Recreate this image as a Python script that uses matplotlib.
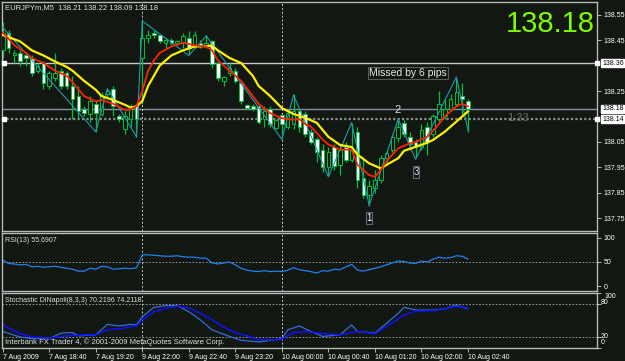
import matplotlib
matplotlib.use("Agg")
import matplotlib.pyplot as plt
import matplotlib.transforms as mtransforms

plt.rcParams['font.family'] = ['Liberation Sans', 'DejaVu Sans']

# ---------------- data ----------------
bars = list(range(81))
opens = [138.41,138.48,138.39,138.40,138.39,138.38,138.33,138.36,138.27,138.30,
         138.33,138.32,138.27,138.23,138.18,138.16,138.20,138.16,138.24,138.26,
         138.15,138.10,138.14,138.19,138.38,138.46,138.48,138.47,138.44,138.45,
         138.44,138.44,138.46,138.43,138.44,138.43,138.445,138.36,138.29,138.32,
         138.33,138.28,138.195,138.19,138.19,138.14,138.18,138.105,138.155,138.11,
         138.12,138.17,138.16,138.09,138.06,138.02,137.95,138.03,137.96,138.03,
         137.98,138.09,137.91,137.84,137.87,137.90,137.985,138.02,138.065,138.125,
         138.07,138.05,138.03,138.11,138.08,138.14,138.15,138.18,138.20,138.23,138.21]
highs = [138.52,138.49,138.41,138.41,138.40,138.39,138.36,138.37,138.33,138.40,
         138.34,138.33,138.31,138.27,138.19,138.23,138.21,138.245,138.26,138.27,
         138.16,138.17,138.20,138.20,138.53,138.49,138.49,138.475,138.46,138.46,
         138.45,138.48,138.485,138.485,138.45,138.47,138.45,138.365,138.31,138.36,
         138.34,138.285,138.20,138.20,138.195,138.19,138.19,138.14,138.16,138.18,
         138.24,138.18,138.17,138.10,138.07,138.04,138.03,138.04,138.04,138.05,
         138.125,138.11,137.99,137.90,137.94,138.00,138.02,138.08,138.14,138.135,
         138.09,138.06,138.12,138.13,138.16,138.25,138.22,138.24,138.305,138.28,138.22]
lows = [138.38,138.40,138.36,138.35,138.35,138.31,138.32,138.26,138.26,138.29,
        138.26,138.26,138.14,138.14,138.15,138.13,138.09,138.15,138.22,138.15,
        138.13,138.08,138.11,138.07,138.20,138.44,138.46,138.44,138.42,138.43,
        138.43,138.42,138.39,138.42,138.42,138.42,138.34,138.29,138.27,138.31,
        138.28,138.20,138.18,138.17,138.12,138.11,138.11,138.10,138.06,138.10,
        138.10,138.09,138.07,138.04,137.97,137.93,137.915,137.94,137.92,137.97,
        137.97,137.87,137.83,137.80,137.85,137.89,137.96,138.01,138.05,138.07,
        138.02,137.985,138.02,138.00,138.07,138.125,138.14,138.17,138.19,138.16,138.09]
closes = [138.48,138.42,138.40,138.37,138.38,138.32,138.35,138.28,138.32,138.32,
          138.27,138.27,138.22,138.17,138.165,138.21,138.165,138.235,138.25,138.19,
          138.14,138.15,138.18,138.14,138.46,138.47,138.47,138.445,138.45,138.44,
          138.445,138.465,138.42,138.47,138.43,138.44,138.355,138.30,138.305,138.34,
          138.29,138.21,138.185,138.18,138.13,138.17,138.12,138.135,138.12,138.165,
          138.17,138.11,138.08,138.05,138.01,137.95,138.01,137.955,138.02,137.98,
          138.02,137.90,137.84,137.875,137.90,137.985,138.005,138.07,138.11,138.08,
          138.04,138.03,138.095,138.05,138.15,138.20,138.18,138.22,138.245,138.22,138.18]

red_bars = [0,2,4,5,7,9,11,12,14,16,17,19,21,22,23,24,25,26,27,29,31,33,35,36,37,39,41,43,44,46,48,50,51,52,53,55,56,58,60,61,63,64,65,66,68,70,71,73,75,76,78,79,80]
red_vals = [138.48,138.43,138.40,138.38,138.36,138.33,138.31,138.285,138.23,138.21,138.215,138.20,138.176,138.178,138.19,138.25,138.33,138.37,138.40,138.425,138.44,138.43,138.425,138.41,138.37,138.33,138.29,138.23,138.20,138.163,138.143,138.137,138.14,138.12,138.11,138.06,138.04,138.02,138.02,137.96,137.92,137.913,137.94,137.975,138.025,138.045,138.05,138.07,138.12,138.15,138.19,138.20,138.19]

yel_bars = [0,3,5,7,9,11,12,14,16,17,19,21,22,23,24,25,26,27,29,31,33,36,37,39,41,43,44,46,48,50,52,54,56,58,60,61,63,65,66,68,69,71,73,74,76,78,79,80]
yel_vals = [138.47,138.445,138.41,138.39,138.366,138.345,138.33,138.29,138.255,138.23,138.215,138.196,138.185,138.19,138.21,138.27,138.31,138.35,138.39,138.41,138.425,138.428,138.41,138.38,138.36,138.31,138.27,138.23,138.183,138.16,138.145,138.125,138.07,138.038,138.03,138.00,137.966,137.946,137.96,137.986,138.015,138.031,138.047,138.058,138.09,138.13,138.15,138.17]

zz_bars = [0,16,18,23,24,32,35,48,50,56,60,63,68,71,78,80]
zz_vals = [138.50,138.09,138.26,138.07,138.525,138.39,138.467,138.06,138.235,137.913,138.126,137.80,138.14,137.982,138.305,138.097]

rsi_vals = [54,47,46,44,45,40,41,39,40,41,39,37,35,31,31,37,35,41,40,35,
            36,37,36,38,65,65,64,63,62,62,63,61,60,60,58,58,48,46,48,50,
            44,37,33,31,30,32,30,31,30,33,38,34,32,30,27,32,31,35,34,40,
            45,33,31,34,37,40,44,48,52,51,48,47,52,50,56,60,58,59,63,62,56]

k_bars = [0,3,5,8,10,12,13,16,18,20,22,23,24,26,28,30,32,34,36,39,41,44,48,49,51,53,55,58,60,61,64,66,68,69,71,74,76,78,80]
k_vals = [30,20,17,17,27,28,22,24,43,40,43,42,57,74,77,77,66,51,33,21,14,11,17,33,40,30,21,24,42,30,27,45,63,74,69,69,71,78,71]
d_bars = [0,3,5,8,11,14,16,18,20,23,24,26,28,30,32,34,36,38,40,42,44,47,48,49,50,52,55,58,61,64,66,69,71,74,76,78,80]
d_vals = [42,26,20,18,22,24,24,33,35,40,51,66,72,76,73,63,51,38,28,22,15,15,16,22,28,30,26,24,30,26,39,60,67,68,71,76,72]

tick_bars = list(range(0, 81, 8))
tick_labels = ['7 Aug 2009', '7 Aug 18:40', '7 Aug 19:20', '9 Aug 22:00', '9 Aug 22:40',
               '9 Aug 23:20', '10 Aug 00:00', '10 Aug 00:40', '10 Aug 01:20',
               '10 Aug 02:00', '10 Aug 02:40']
price_ticks = [137.75, 137.85, 137.95, 138.05, 138.25, 138.45, 138.55]
separators = [24, 48]

# ---------------- figure ----------------
W, H = 625, 361
BG = '#121712'
fig = plt.figure(figsize=(W / 100, H / 100), dpi=100, facecolor=BG)

def fx(x):
    return x / W

def fy(y):
    return 1 - y / H

def make_ax(top, bottom):
    ax = fig.add_axes([fx(2), fy(bottom), (597 - 2) / W, (bottom - top) / H])
    ax.set_facecolor(BG)
    for s in ax.spines.values():
        s.set_color('#B8B8B8')
        s.set_linewidth(1.0)
    ax.set_xlim(-0.12, 102.18)
    ax.yaxis.tick_right()
    ax.tick_params(axis='y', colors='#D0D0D0', labelcolor='white', labelsize=5,
                   length=3, width=0.6, pad=2)
    return ax

ax = make_ax(2, 231)
ax_rsi = make_ax(233, 291)
ax_sto = make_ax(293, 348)

# ---- main pane ----
ax.set_ylim(137.70, 138.60)
ax.set_yticks(price_ticks)
ax.set_yticklabels(['%.2f' % p for p in price_ticks])
ax.set_xticks([])

GREEN = '#00C040'
ax.vlines(bars, lows, highs, color=GREEN, lw=0.9, zorder=2)
bottoms = [min(o, c) for o, c in zip(opens, closes)]
heights = [max(abs(c - o), 0.004) for o, c in zip(opens, closes)]
faces = ['white' if c < o else '#0F1A0F' for o, c in zip(opens, closes)]
ax.bar(bars, heights, bottom=bottoms, width=0.62, color=faces,
       edgecolor=GREEN, linewidth=0.7, zorder=3)

ax.axhline(138.36, color='#C8C8C8', lw=1.0, zorder=1)
ax.axhline(138.18, color='#8890A0', lw=1.0, zorder=1)
ax.axhline(138.14, color='#8C8C8C', lw=1.6, ls=(0, (1, 1)), zorder=1)

ax.plot(zz_bars, zz_vals, color='#1E9AAE', lw=0.8, zorder=4)
ax.plot(yel_bars, yel_vals, color='#FFF000', lw=1.6, zorder=5)
ax.plot(red_bars, red_vals, color='#FF2200', lw=1.3, zorder=6)

trans = mtransforms.blended_transform_factory(ax.transAxes, ax.transData)
for lvl in [138.36, 138.18, 138.14]:
    ax.text(1 + 5 / 595, lvl, '%.2f' % lvl, transform=trans, ha='left', va='center',
            fontsize=5, color='black', clip_on=False,
            bbox=dict(facecolor='white', edgecolor='white', pad=0.6))
for lvl in [138.36, 138.14]:
    ax.plot([0.004], [lvl], marker='s', ms=2.5, color='white', transform=trans,
            clip_on=False, zorder=7)
    ax.plot([1.0], [lvl], marker='s', ms=2.5, color='white', transform=trans,
            clip_on=False, zorder=7)

# ---- RSI pane ----
ax_rsi.set_ylim(-10.4, 110.4)
ax_rsi.set_yticks([0, 50, 100])
ax_rsi.set_yticklabels(['0', '50', '100'])
ax_rsi.set_xticks([])
ax_rsi.axhline(50, color='#A8A8A8', lw=0.6, ls=(0, (2, 2)))
ax_rsi.plot(bars, rsi_vals, color='#2080F0', lw=0.9)

# ---- Stochastic pane ----
ax_sto.set_ylim(0, 100)
ax_sto.set_yticks([0, 20, 80, 100])
ax_sto.set_yticklabels(['', '', '', ''])
for lv in [20, 80]:
    ax_sto.axhline(lv, color='#A8A8A8', lw=0.6, ls=(0, (2, 2)))
ax_sto.plot(k_bars, k_vals, color='#2F6FD8', lw=0.9)
ax_sto.plot(d_bars, d_vals, color='#1010FF', lw=1.1)
ax_sto.set_xticks(tick_bars)
ax_sto.set_xticklabels(tick_labels)
ax_sto.tick_params(axis='x', colors='#D0D0D0', labelcolor='white', labelsize=5,
                   length=3, width=0.6, pad=1.5)
for lbl in ax_sto.get_xticklabels():
    lbl.set_ha('left')

for a in (ax, ax_rsi, ax_sto):
    for s in separators:
        a.axvline(s, color='#C8C8C8', lw=0.7, ls=(0, (2, 2)), zorder=1)

for txt, yy, xx in [('100', 297, 604), ('80', 303, 601), ('20', 337, 601), ('0', 343, 601)]:
    fig.text(fx(xx), fy(yy), txt, ha='left', va='center', fontsize=5, color='white')

# ---- texts ----
fig.text(fx(5), fy(8), 'EURJPYm,M5  138.21 138.22 138.09 138.18', ha='left', va='center',
         fontsize=5.5, color='#E0E0E0')
fig.text(fx(595), fy(24), '138.18', ha='right', va='center', fontsize=21, color='#7CFC00')
fig.text(fx(408), fy(73), 'Missed by 6 pips', ha='center', va='center', fontsize=7.5,
         color='#E8E8E8', bbox=dict(facecolor='none', edgecolor='#5A5A5A', pad=0.8, lw=0.8))
fig.text(fx(398), fy(110), '2', ha='center', va='center', fontsize=8, color='#E0E0E0')
fig.text(fx(416), fy(172), '3', ha='center', va='center', fontsize=7, color='#E0E0E0',
         bbox=dict(facecolor='none', edgecolor='#5A6A80', pad=0.5, lw=0.8))
fig.text(fx(369), fy(218), '1', ha='center', va='center', fontsize=7, color='white',
         bbox=dict(facecolor='none', edgecolor='#5A6A80', pad=0.5, lw=0.8))
fig.text(fx(518), fy(118), '1:33', ha='center', va='center', fontsize=8, color='#6C6C6C')
fig.text(fx(5), fy(241), 'RSI(13) 55.6907', ha='left', va='center', fontsize=5, color='#E0E0E0')
fig.text(fx(5), fy(300), 'Stochastic DiNapoli(8,3,3) 70.2196 74.2118', ha='left', va='center',
         fontsize=5, color='#E0E0E0')
fig.text(fx(5), fy(342), 'Interbank FX Trader 4, \u00a9 2001-2009 MetaQuotes Software Corp.',
         ha='left', va='center', fontsize=5.5, color='#E0E0E0')

fig.savefig('out.png', dpi=100, facecolor=BG)
